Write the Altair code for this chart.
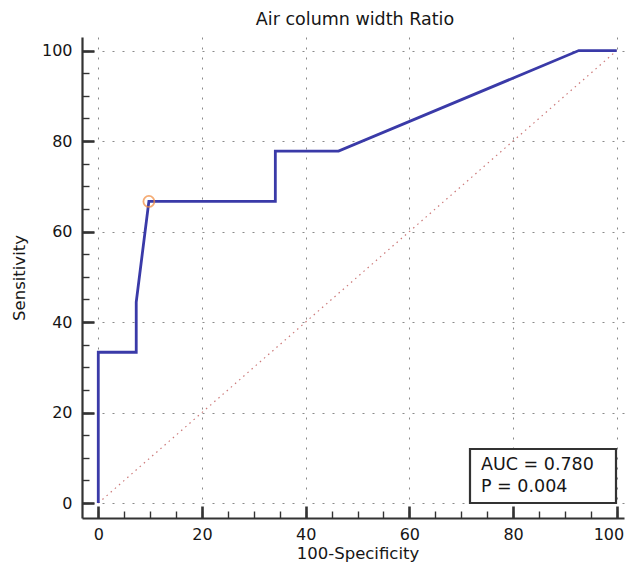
import altair as alt
import pandas as pd

# ROC curve points (100-Specificity, Sensitivity)
fpr = [0, 0, 7.32, 7.32, 9.76, 34.15, 34.15, 46.34, 92.68, 100]
tpr = [0, 33.33, 33.33, 44.44, 66.67, 66.67, 77.78, 77.78, 100, 100]
# optimal cut-off point
opt_fpr = [9.76]
opt_tpr = [66.67]
# reference diagonal
diag_x = [0, 100]
diag_y = [0, 100]
# axis ticks
major_ticks = [0, 20, 40, 60, 80, 100]
minor_ticks = [0, 5, 10, 15, 20, 25, 30, 35, 40, 45, 50, 55, 60, 65, 70, 75, 80, 85, 90, 95, 100]
# annotation
stats_text = ["AUC = 0.780", "P = 0.004"]
title_text = "Air column width Ratio"
x_title = "100-Specificity"
y_title = "Sensitivity"

FONT = "DejaVu Sans"
AX = "#333333"
TXT = "#161616"

roc = pd.DataFrame({"x": fpr, "y": tpr, "i": list(range(len(fpr)))})
opt = pd.DataFrame({"x": opt_fpr, "y": opt_tpr})
diag = pd.DataFrame({"x": diag_x, "y": diag_y})
stats = pd.DataFrame({"t": ["\n".join(stats_text)]})
titles = pd.DataFrame({"t": [title_text], "xt": [x_title]})

xs = alt.Scale(domain=[-3.14, 101.4], nice=False, zero=False)
ys = alt.Scale(domain=[-3.3, 103.0], nice=False, zero=False)

# layer 1: diagonal + labelled axes with grid
diag_layer = alt.Chart(diag).mark_line(
    color="#cc7a7a", strokeWidth=1.2, strokeDash=[1.5, 4]
).encode(
    x=alt.X("x:Q", scale=xs, title=None, axis=alt.Axis(
        orient="bottom", values=major_ticks, grid=True, gridDash=[2, 8],
        gridColor="#8a8a8a", gridWidth=1, ticks=False, tickSize=0,
        domain=True, domainColor=AX, domainWidth=2.2,
        labelFlush=10, labelFlushOffset=7,
        labelFont=FONT, labelFontSize=16, labelColor=TXT, labelPadding=8)),
    y=alt.Y("y:Q", scale=ys, title=y_title, axis=alt.Axis(
        orient="left", values=major_ticks, grid=True, gridDash=[2, 8],
        gridColor="#8a8a8a", gridWidth=1, ticks=False, tickSize=0,
        domain=True, domainColor=AX, domainWidth=2.2, labelFlush=False,
        labelFont=FONT, labelFontSize=16, labelColor=TXT, labelPadding=10,
        titleFont=FONT, titleFontSize=16.5, titleFontWeight="normal",
        titleColor=TXT, titlePadding=14)),
)

# layer 2: ROC curve + major inward ticks
roc_layer = alt.Chart(roc).mark_line(
    color="#3a3aa8", strokeWidth=2.8
).encode(
    x=alt.X("x:Q", scale=xs, axis=alt.Axis(
        orient="bottom", values=major_ticks, grid=False, labels=False,
        domain=False, title=None, tickSize=12, offset=-12, tickWidth=2.6,
        tickColor=AX)),
    y=alt.Y("y:Q", scale=ys, axis=alt.Axis(
        orient="left", values=major_ticks, grid=False, labels=False,
        domain=False, title=None, tickSize=12, offset=-12, tickWidth=2.6,
        tickColor=AX)),
    order="i:Q",
)

# layer 3: optimal point + minor inward ticks
opt_layer = alt.Chart(opt).mark_point(
    shape="circle", filled=False, color="#f28a3c", size=120, strokeWidth=1.8
).encode(
    x=alt.X("x:Q", scale=xs, axis=alt.Axis(
        orient="bottom", values=minor_ticks, grid=False, labels=False,
        domain=False, title=None, tickSize=7, offset=-7, tickWidth=1.4,
        tickColor=AX)),
    y=alt.Y("y:Q", scale=ys, axis=alt.Axis(
        orient="left", values=minor_ticks, grid=False, labels=False,
        domain=False, title=None, tickSize=7, offset=-7, tickWidth=1.4,
        tickColor=AX)),
)

box = alt.Chart(stats).mark_rect(
    fill="white", stroke=AX, strokeWidth=2.2
).encode(
    x=alt.value(388), x2=alt.value(534), y=alt.value(412), y2=alt.value(466)
)

label = alt.Chart(stats).mark_text(
    align="left", baseline="alphabetic", font=FONT, fontSize=17.5,
    color=TXT, lineBreak="\n", lineHeight=21.7
).encode(
    x=alt.value(399), y=alt.value(433), text="t:N"
)

main_title = alt.Chart(titles).mark_text(
    align="center", baseline="alphabetic", font=FONT, fontSize=17.5,
    color=TXT
).encode(x=alt.value(273), y=alt.value(-12), text="t:N")

x_axis_title = alt.Chart(titles).mark_text(
    align="center", baseline="alphabetic", font=FONT, fontSize=16.5,
    color=TXT
).encode(x=alt.value(276), y=alt.value(522), text="xt:N")

chart = alt.layer(
    diag_layer, roc_layer, opt_layer, box, label, main_title, x_axis_title
).resolve_axis(
    x="independent", y="independent"
).properties(
    width=542, height=481,
    autosize=alt.AutoSizeParams(type="none"),
    padding={"left": 74, "top": 29, "right": 1, "bottom": 45},
).configure_view(stroke=None)

chart.save("out.html", embed_options={"renderer": "svg", "actions": False})
